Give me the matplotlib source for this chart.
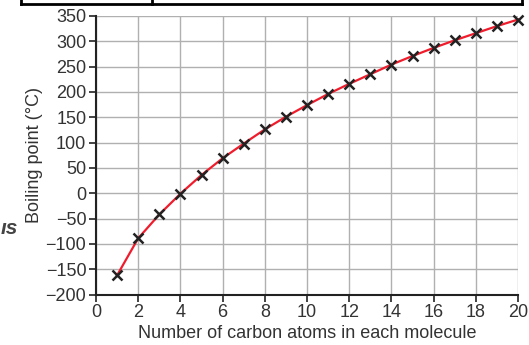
import matplotlib
matplotlib.use("Agg")
import matplotlib.pyplot as plt
from matplotlib.lines import Line2D

carbons = list(range(1, 21))
boiling = [-162, -89, -42, -1, 36, 69, 98, 126, 151, 174, 196, 216, 235, 254, 271, 287, 302, 316, 330, 343]
xticks = list(range(0, 21, 2))
yticks = list(range(-200, 351, 50))

plt.rcParams['font.family'] = ['Liberation Sans', 'DejaVu Sans']

fig = plt.figure(figsize=(5.29, 3.45), dpi=100)
ax = fig.add_axes([96/529, 50.5/345, 422/529, 278.5/345])
ax.set_xlim(0, 20)
ax.set_ylim(-200, 350)
ax.set_xticks(xticks)
ax.set_yticks(yticks)
ax.grid(True, color='#b0b0b0', linewidth=1.0)
ax.set_axisbelow(True)
for s in ['top', 'right']:
    ax.spines[s].set_visible(False)
for s in ['left', 'bottom']:
    ax.spines[s].set_linewidth(1.5)
    ax.spines[s].set_color('#222222')
ax.tick_params(direction='out', length=5, width=1.2, color='#222222', labelsize=13, labelcolor='#333333', pad=2)

ax.plot(carbons, boiling, color='#f01c2c', linewidth=1.6, zorder=3, clip_on=False)
ax.plot(carbons, boiling, linestyle='none', marker='x', markersize=6.5, markeredgewidth=1.8, color='#222222', zorder=4, clip_on=False)

ax.set_xlabel('Number of carbon atoms in each molecule', fontsize=13, color='#333333', labelpad=3)
ax.set_ylabel('Boiling point (°C)', fontsize=13, color='#333333', labelpad=2)

# fragments of surrounding page
fig.add_artist(Line2D([21/529, 522/529], [1-4/345, 1-4/345], color='black', linewidth=2))
fig.add_artist(Line2D([21/529, 21/529], [1-4/345, 1.0], color='black', linewidth=2))
fig.add_artist(Line2D([522/529, 522/529], [1-4/345, 1.0], color='black', linewidth=2))
fig.add_artist(Line2D([152/529, 152/529], [1-4/345, 1.0], color='black', linewidth=2))
fig.text(1/529, 1-229/345, 'ıs', fontsize=15, color='#444444', va='center', ha='left', style='italic', fontweight='bold')

fig.savefig('out.png', dpi=100)
